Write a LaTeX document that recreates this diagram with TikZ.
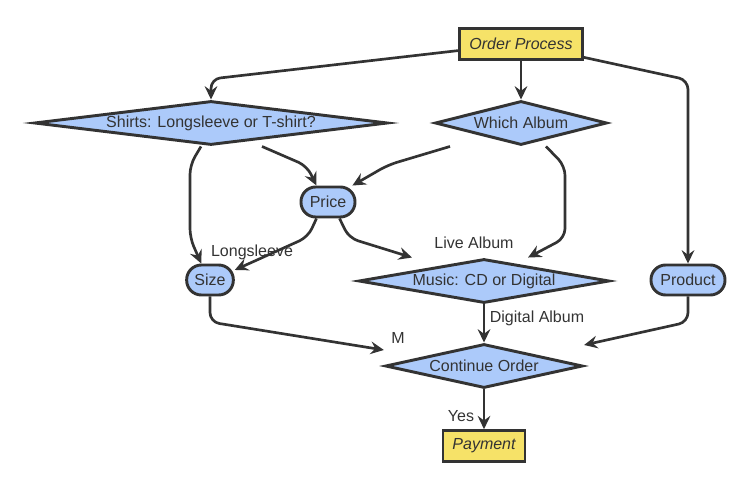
\documentclass[tikz,border=0pt]{standalone}
\usepackage{fontspec}
\setmainfont{Liberation Sans}
\usetikzlibrary{shapes.geometric,arrows.meta}
\definecolor{boxblue}{RGB}{172,202,250}
\definecolor{boxyellow}{RGB}{246,226,104}
\definecolor{ink}{RGB}{51,51,51}
\tikzset{
  every node/.style={font=\fontsize{12}{14}\selectfont, text=ink},
  decision/.style={diamond, draw=ink, fill=boxblue, line width=2.2pt, inner sep=0pt},
  roundbox/.style={rectangle, rounded corners=11pt, draw=ink, fill=boxblue, line width=2.2pt, minimum height=22.5pt, inner sep=0pt},
  termbox/.style={rectangle, draw=ink, fill=boxyellow, line width=2.2pt, minimum height=23pt, inner sep=0pt, font=\fontsize{12}{14}\selectfont\itshape},
  flow/.style={draw=ink, line width=2pt, rounded corners=7pt, -{Stealth[length=10pt,width=9.5pt,inset=3.5pt]}},
}
\begin{document}
\begin{tikzpicture}[x=0.75pt,y=-0.75pt]
        \useasboundingbox (0,0) rectangle (753,488);
        % nodes
        \node[termbox, minimum width=92pt] (order) at (521,44) {Order Process};
        \node[decision, minimum width=265pt, minimum height=33pt, aspect=8] (shirts) at (211,123) {Shirts: Longsleeve or T-shirt?};
        \node[decision, minimum width=129pt, minimum height=33pt, aspect=4] (album) at (521,123) {Which Album};
        \node[roundbox, minimum width=40.5pt] (price) at (328,202) {Price};
        \node[roundbox, minimum width=35pt] (size) at (210,280) {Size};
        \node[roundbox, minimum width=55.5pt] (product) at (688,280) {Product};
        \node[decision, minimum width=188pt, minimum height=33pt, aspect=5.6] (music) at (484,281) {Music: CD or Digital};
        \node[decision, minimum width=148pt, minimum height=33pt, aspect=4.4] (continue) at (484,366) {Continue Order};
        \node[termbox, minimum width=61.5pt] (payment) at (484,446) {Payment};
        % edges
        \draw[flow] (order.186) -- (211,79) -- (shirts.north);
        \draw[flow] (order.south) -- (album.north);
        \draw[flow] (order.-12) -- (688,80) -- (product.north);
        \draw[flow] (shirts.south -| 201,0) -- (190,165) -- (190,238) -- (size.118);
        \draw[flow] (shirts.south -| 262,0) -- (307,166) -- (price.125);
        \draw[flow] (album.south -| 450,0) -- (388,165) -- (price.34);
        \draw[flow] (album.south -| 546,0) -- (565,166) -- (565,238) -- (music.north -| 528,0);
        \draw[flow] (price.-125) -- (308,237) -- (size.22);
        \draw[flow] (price.-55) -- (349,238) -- (music.north -| 412,0);
        \draw[flow] (size.south) -- (210,322) -- (continue.west |- 0,350);
        \draw[flow] (music.south) -- (continue.north);
        \draw[flow] (product.south) -- (688,322) -- (continue.east |- 0,345);
        \draw[flow] (continue.south) -- (payment.north);
        % edge labels
        \node (longsleeve) at (252,252) {Longsleeve};
        \node (live) at (474,243) {Live Album};
        \node (m) at (398,338) {M};
        \node (digital) at (537,318) {Digital Album};
        \node (yes) at (461,416) {Yes};
\end{tikzpicture}
\end{document}
